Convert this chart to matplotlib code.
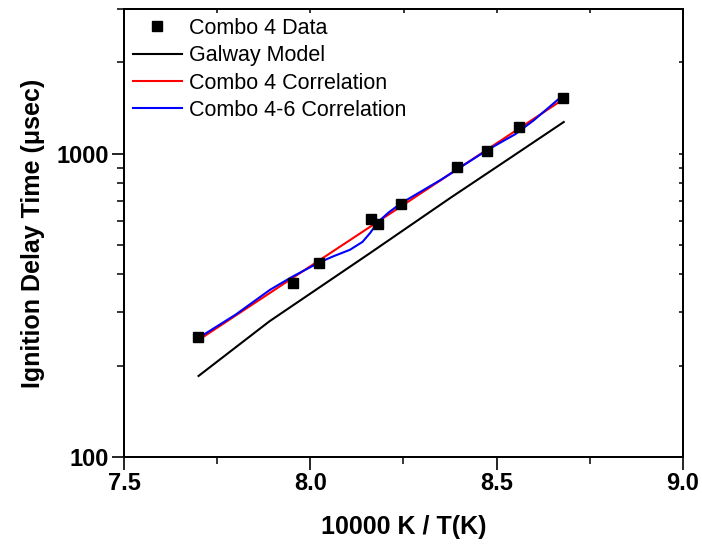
import matplotlib
matplotlib.use("Agg")
import matplotlib.pyplot as plt
from matplotlib.ticker import LogLocator, NullFormatter, FixedLocator, FixedFormatter, MultipleLocator

plt.rcParams['font.family'] = ['Liberation Sans', 'DejaVu Sans']

# data
data_x = [7.698, 7.954, 8.024, 8.162, 8.182, 8.243, 8.394, 8.473, 8.560, 8.679]
data_y = [248, 374, 436, 610, 587, 684, 901, 1018, 1225, 1527]

galway_x = [7.70, 7.89, 8.16, 8.375, 8.53, 8.68]
galway_y = [185, 280, 470, 714, 957, 1272]

c4_x = [7.70, 8.68]
c4_y = [243, 1515]

c46_x = [7.70, 7.80, 7.892, 7.95, 8.024, 8.06, 8.106, 8.14, 8.16, 8.182, 8.21, 8.243,
         8.35, 8.473, 8.55, 8.60, 8.68]
c46_y = [247, 295, 356, 392, 438, 458, 482, 512, 547, 596, 640, 686,
         820, 1025, 1160, 1290, 1566]

fig = plt.figure(figsize=(7.02, 5.44), dpi=100)
ax = fig.add_axes([124/702, 87/544, 559/702, 448/544])

ax.plot(data_x, data_y, 's', color='black', markersize=7, label='Combo 4 Data', zorder=5)
ax.plot(galway_x, galway_y, '-', color='black', lw=1.5, label='Galway Model')
ax.plot(c4_x, c4_y, '-', color='#ff0000', lw=1.5, label='Combo 4 Correlation')
ax.plot(c46_x, c46_y, '-', color='#0000ff', lw=1.5, label='Combo 4-6 Correlation')

xlim = (7.5, 9.0)
ylim = (100, 3000)
ax.set_yscale('log')
ax.set_xlim(*xlim)
ax.set_ylim(*ylim)

ax.xaxis.set_major_locator(FixedLocator([7.5, 8.0, 8.5, 9.0]))
ax.xaxis.set_minor_locator(MultipleLocator(0.25))
ax.yaxis.set_major_locator(FixedLocator([100, 1000]))
ax.yaxis.set_minor_locator(LogLocator(base=10, subs=range(2, 10)))
ax.yaxis.set_minor_formatter(NullFormatter())
ax.xaxis.set_major_formatter(FixedFormatter(['7.5', '8.0', '8.5', '9.0']))
ax.yaxis.set_major_formatter(FixedFormatter(['100', '1000']))

for s in ax.spines.values():
    s.set_linewidth(1.2)

ax.tick_params(axis='both', which='major', direction='out', length=9, width=1.2,
               labelsize=17, pad=2)
ax.tick_params(axis='both', which='minor', direction='out', length=5, width=1.1)
for lab in ax.get_xticklabels() + ax.get_yticklabels():
    lab.set_fontweight('bold')

# mirrored inward ticks on top and right
axr = ax.twinx()
axr.set_yscale('log')
axr.set_ylim(*ylim)
axr.yaxis.set_major_locator(FixedLocator([100, 1000]))
axr.yaxis.set_minor_locator(LogLocator(base=10, subs=range(2, 10)))
axr.yaxis.set_major_formatter(NullFormatter())
axr.yaxis.set_minor_formatter(NullFormatter())
axr.tick_params(axis='y', which='both', direction='in', length=3, width=1.1)
axt = ax.twiny()
axt.set_xlim(*xlim)
axt.xaxis.set_major_locator(FixedLocator([7.5, 8.0, 8.5, 9.0]))
axt.xaxis.set_minor_locator(MultipleLocator(0.25))
axt.xaxis.set_major_formatter(NullFormatter())
axt.tick_params(axis='x', which='both', direction='in', length=3, width=1.1)
for a in (axr, axt):
    for s in a.spines.values():
        s.set_linewidth(1.2)

ax.set_xlabel('10000 K / T(K)', fontsize=18, fontweight='bold', labelpad=14)
ax.set_ylabel('Ignition Delay Time (\u03bcsec)', fontsize=18, fontweight='bold', labelpad=8)

leg = axt.legend(*ax.get_legend_handles_labels(), loc='upper left', frameon=False,
                 fontsize=15.5, handlelength=2.3, handletextpad=0.3, labelspacing=0.3,
                 borderaxespad=0.0, borderpad=0.4, bbox_to_anchor=(0.0, 1.0))

fig.savefig('out.png', dpi=100)
